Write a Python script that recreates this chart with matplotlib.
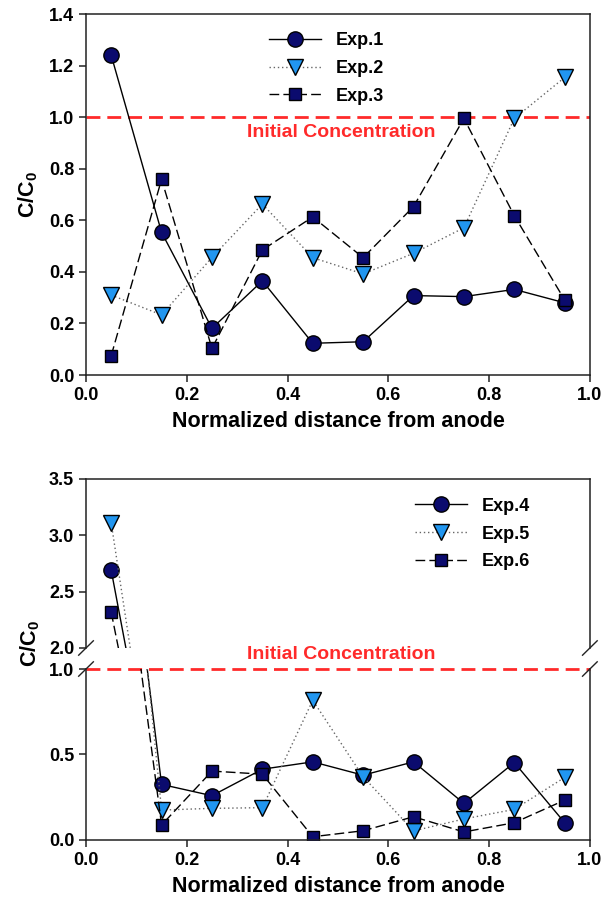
import matplotlib
matplotlib.use("Agg")
import matplotlib.pyplot as plt

plt.rcParams['font.family'] = ['Liberation Sans', 'DejaVu Sans']
plt.rcParams['font.weight'] = 'bold'
plt.rcParams['mathtext.fontset'] = 'custom'
plt.rcParams['mathtext.rm'] = 'Liberation Sans:bold'
plt.rcParams['mathtext.bf'] = 'Liberation Sans:bold'

x = [0.05, 0.15, 0.25, 0.35, 0.45, 0.55, 0.65, 0.75, 0.85, 0.95]

exp1 = [1.24, 0.553, 0.181, 0.365, 0.123, 0.129, 0.308, 0.304, 0.332, 0.28]
exp2 = [0.31, 0.233, 0.456, 0.663, 0.455, 0.392, 0.472, 0.571, 0.995, 1.154]
exp3 = [0.075, 0.759, 0.103, 0.485, 0.613, 0.455, 0.653, 0.995, 0.618, 0.291]

exp4 = [2.69, 0.325, 0.259, 0.414, 0.457, 0.379, 0.457, 0.214, 0.453, 0.101]
exp5 = [3.11, 0.175, 0.185, 0.189, 0.817, 0.37, 0.053, 0.123, 0.179, 0.366]
exp6 = [2.318, 0.088, 0.403, 0.385, 0.019, 0.054, 0.136, 0.047, 0.101, 0.233]

navy = '#0b0b6e'
light = '#2196f0'
red = '#ff2a2a'

styles = [
    dict(color='black', lw=1.0, ls='-', marker='o', ms=11, mfc=navy, mec='black', mew=1.0),
    dict(color='#666666', lw=1.0, ls=(0, (1, 2)), marker='v', ms=11, mfc=light, mec='black', mew=1.0),
    dict(color='black', lw=1.0, ls=(0, (7, 3)), marker='s', ms=8.7, mfc=navy, mec='black', mew=1.0),
]

tick_fs = 13
lab_fs = 15.5
leg_fs = 13
note_fs = 14


def style_ax(ax):
    for s in ax.spines.values():
        s.set_linewidth(1.1)
        s.set_color('#222222')
    ax.tick_params(direction='out', length=5, width=1.1, labelsize=tick_fs,
                   top=False, right=False, color='#222222')
    for t in ax.get_xticklabels() + ax.get_yticklabels():
        t.set_fontweight('bold')


fig = plt.figure(figsize=(6.1, 8.98), dpi=100)

# top chart
ax = fig.add_axes([0.141, 0.5824, 0.826, 0.402])
for y, s, lab in zip([exp1, exp2, exp3], styles, ['Exp.1', 'Exp.2', 'Exp.3']):
    ax.plot(x, y, label=lab, **s)
ax.axhline(1.0, color=red, lw=2.0, ls=(0, (5, 2.5)), zorder=1)
ax.text(0.506, 0.972, 'Initial Concentration', color=red, fontsize=note_fs,
        fontweight='bold', ha='center', va='top')
ax.set_xlim(0, 1)
ax.set_ylim(0, 1.4)
ax.set_xticks([0, 0.2, 0.4, 0.6, 0.8, 1.0])
ax.set_yticks([0, 0.2, 0.4, 0.6, 0.8, 1.0, 1.2, 1.4])
ax.xaxis.set_major_formatter(matplotlib.ticker.FormatStrFormatter('%.1f'))
ax.yaxis.set_major_formatter(matplotlib.ticker.FormatStrFormatter('%.1f'))
ax.set_xlabel('Normalized distance from anode', fontsize=lab_fs, fontweight='bold', labelpad=5)
ax.set_ylabel(r'C/C$_0$', fontsize=lab_fs, fontweight='bold', labelpad=6)
ax.legend(loc='upper left', bbox_to_anchor=(0.33, 0.995), frameon=False,
          fontsize=leg_fs, handlelength=2.9, labelspacing=0.6, handletextpad=0.8)
style_ax(ax)

# bottom chart with broken axis
axu = fig.add_axes([0.141, 0.2784, 0.826, 0.1882])
axl = fig.add_axes([0.141, 0.0646, 0.826, 0.1904])
for a in (axu, axl):
    for y, s, lab in zip([exp4, exp5, exp6], styles, ['Exp.4', 'Exp.5', 'Exp.6']):
        a.plot(x, y, label=lab, **s)
    a.set_xlim(0, 1)
    a.set_xticks([0, 0.2, 0.4, 0.6, 0.8, 1.0])
    a.xaxis.set_major_formatter(matplotlib.ticker.FormatStrFormatter('%.1f'))
    a.yaxis.set_major_formatter(matplotlib.ticker.FormatStrFormatter('%.1f'))
    style_ax(a)
axu.set_ylim(2.0, 3.5)
axu.set_yticks([2.0, 2.5, 3.0, 3.5])
axl.set_ylim(0, 1.0)
axl.set_yticks([0, 0.5, 1.0])
axu.spines['bottom'].set_visible(False)
axl.spines['top'].set_visible(False)
axu.tick_params(bottom=False, labelbottom=False)
for t in axl.get_xticklabels() + axl.get_yticklabels() + axu.get_yticklabels():
    t.set_fontweight('bold')

axl.axhline(1.0, color=red, lw=2.0, ls=(0, (5, 2.5)), zorder=1, clip_on=False)
axl.annotate('Initial Concentration', xy=(0.506, 1.0), xytext=(0, 4),
             textcoords='offset points', color=red, fontsize=note_fs,
             fontweight='bold', ha='center', va='bottom', annotation_clip=False)
axl.set_xlabel('Normalized distance from anode', fontsize=lab_fs, fontweight='bold', labelpad=5)
fig.text(0.05, 0.283, r'C/C$_0$', fontsize=lab_fs, fontweight='bold',
         rotation=90, ha='center', va='center')
axu.legend(loc='upper left', bbox_to_anchor=(0.62, 0.985), frameon=False,
           fontsize=leg_fs, handlelength=2.9, labelspacing=0.6, handletextpad=0.8)

# break marks
dx = 0.012
dy = 0.008
kw = dict(color='#222222', lw=1.0, clip_on=False, transform=fig.transFigure)
for xs in (0.141, 0.967):
    for ys in (0.2784, 0.255):
        fig.add_artist(plt.Line2D([xs - dx, xs + dx], [ys - dy, ys + dy], **kw))

fig.savefig('out.png', dpi=100)
